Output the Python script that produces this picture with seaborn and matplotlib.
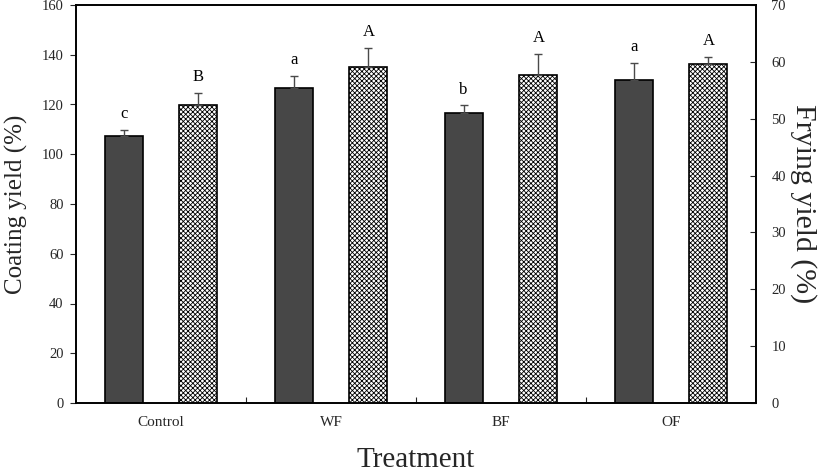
import numpy as np
import pandas as pd
import matplotlib
matplotlib.use("Agg")
import matplotlib.pyplot as plt
import seaborn as sns

treatments = ["Control", "WF", "BF", "OF"]
coating = [107.3, 126.5, 116.4, 129.8]
coating_err = [2.3, 5.0, 3.2, 7.0]
coating_letters = ["c", "a", "b", "a"]
frying = [52.5, 59.1, 57.7, 59.6]
frying_err = [2.0, 3.3, 3.7, 1.2]
frying_letters = ["B", "A", "A", "A"]

sns.set_theme(style="white")
plt.rcParams["font.family"] = ["Liberation Serif", "DejaVu Serif"]
plt.rcParams["hatch.color"] = "#a8a8a8"
plt.rcParams["hatch.linewidth"] = 0.6

nan4 = [np.nan] * len(treatments)
df_left = pd.DataFrame({"Treatment": treatments * 2,
                        "value": coating + nan4,
                        "metric": ["Coating"] * 4 + ["Frying"] * 4})
df_right = pd.DataFrame({"Treatment": treatments * 2,
                         "value": nan4 + frying,
                         "metric": ["Coating"] * 4 + ["Frying"] * 4})
hue_order = ["Coating", "Frying"]
pal = {"Coating": "#474747", "Frying": "white"}

fig = plt.figure(figsize=(8.27, 4.74), dpi=100)
ax1 = fig.add_axes([76 / 827, 1 - 403 / 474, (756 - 76) / 827, (403 - 5) / 474])
ax2 = ax1.twinx()

for ax, d in ((ax1, df_left), (ax2, df_right)):
    sns.barplot(data=d, x="Treatment", y="value", hue="metric", hue_order=hue_order,
                order=treatments, width=0.88, gap=0.49, palette=pal,
                edgecolor="black", linewidth=1.2, errorbar=None, legend=False, ax=ax)

def valid(ax):
    bars = [p for p in ax.patches if np.isfinite(p.get_height()) and p.get_height() > 0]
    return sorted(bars, key=lambda p: p.get_x())

for p in valid(ax2):
    p.set_hatch("xxxxxxx")

def annotate(ax, vals, errs, letters, off):
    bars = valid(ax)
    xs = [b.get_x() + b.get_width() / 2 for b in bars]
    ax.errorbar(xs, vals, yerr=[np.zeros(len(errs)), errs], fmt="none",
                ecolor="#4a4a4a", elinewidth=1.0, capsize=3.2, capthick=1.0, zorder=1)
    for x, v, e, l in zip(xs, vals, errs, letters):
        ax.text(x, v + e + off, l, ha="center", va="bottom", fontsize=12, color="black")

annotate(ax1, coating, coating_err, coating_letters, 3.2)
annotate(ax2, frying, frying_err, frying_letters, 1.4)

ax1.set_ylim(0, 160)
ax2.set_ylim(0, 70)
ax1.set_xlim(-0.5, 3.5)
ax1.set_yticks(np.arange(0, 161, 20))
ax2.set_yticks(np.arange(0, 71, 10))

ax1.set_ylabel("Coating yield (%)", fontsize=18, labelpad=10)
ax2.set_ylabel("Frying yield (%)", fontsize=21.5, rotation=270, labelpad=22)
ax1.set_xlabel("Treatment", fontsize=21, labelpad=13)

ax1.tick_params(axis="y", direction="out", length=4, width=0.8, labelsize=10.5, pad=5, left=True)
ax2.tick_params(axis="y", direction="in", length=4, width=0.8, labelsize=10.5, pad=11, right=True)
ax1.tick_params(axis="x", length=0, labelsize=11, pad=9)
ax1.set_xticks([0.5, 1.5, 2.5], minor=True)
ax1.tick_params(axis="x", which="minor", direction="in", length=4, width=0.8, bottom=True)

for ax in (ax1, ax2):
    for s in ax.spines.values():
        s.set_color("black")
        s.set_linewidth(1.2)

fig.savefig("out.png", dpi=100)
